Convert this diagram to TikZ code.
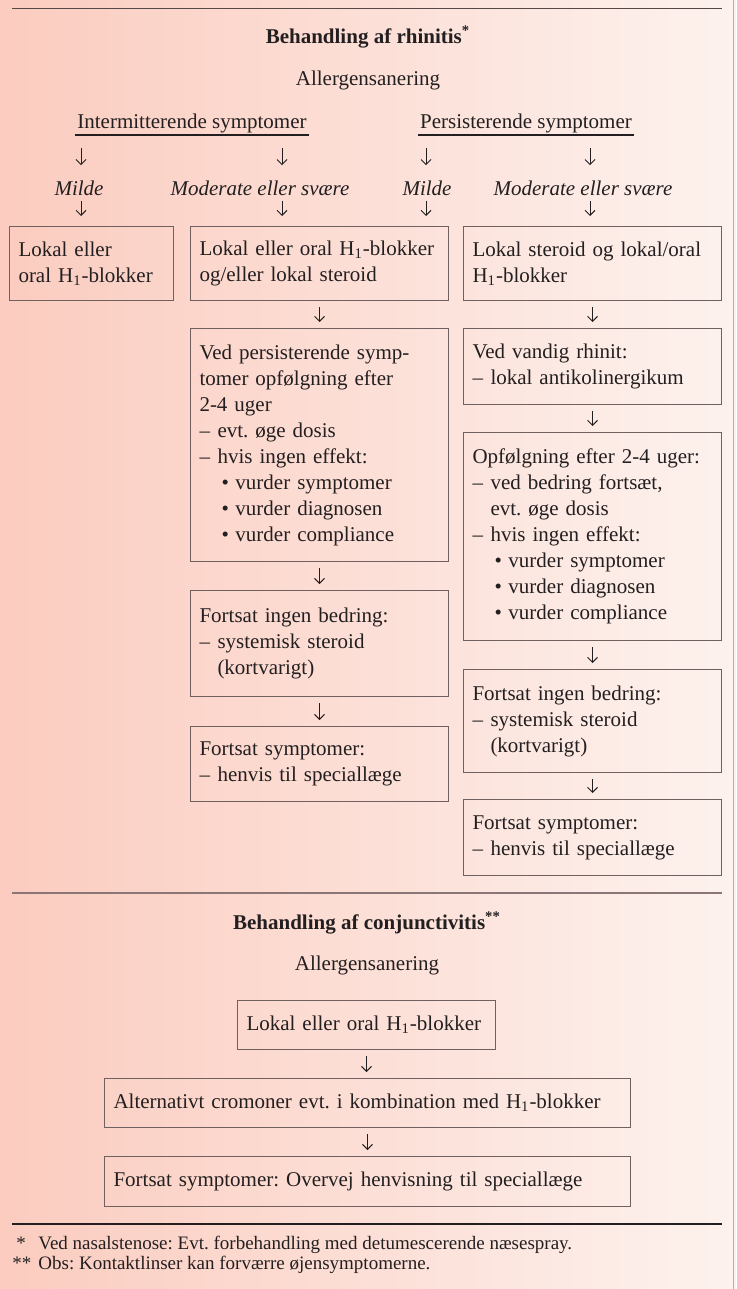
\documentclass[tikz,border=0pt]{standalone}
\usepackage{fontspec}
\setmainfont{Liberation Serif}
\usetikzlibrary{arrows.meta}
\frenchspacing

\definecolor{bgleft}{RGB}{251,204,191}
\definecolor{bgright}{RGB}{253,242,238}
\definecolor{ink}{RGB}{35,31,32}
\definecolor{boxline}{RGB}{112,96,96}
\definecolor{topline}{RGB}{87,72,72}
\definecolor{midline}{RGB}{138,118,118}
\definecolor{edgeline}{RGB}{185,172,170}

\newcommand{\dashitem}{\makebox[9pt][l]{\textendash}}
\newcommand{\dashcont}{\hspace*{9pt}}
\newcommand{\bulitem}{\hspace*{11pt}\makebox[7pt][l]{\textbullet}}
\newcommand{\Hone}{H\textsubscript{1}}

\tikzset{
  txt/.style={font=\fontsize{10.5}{13}\selectfont, text=ink, inner sep=1pt},
  sev/.style={txt, font=\fontsize{10.5}{13}\selectfont\itshape},
  treatbox/.style={txt, draw=boxline, line width=0.5pt, anchor=north west,
    align=left, inner xsep=4.5pt, inner ysep=0pt},
  arr/.style={draw=ink, line width=0.5pt,
    -{Straight Barb[length=2.5pt,width=5pt]}, shorten <=3pt, shorten >=3pt},
  note/.style={font=\fontsize{9.5}{12}\selectfont, text=ink, inner sep=0pt, anchor=west},
}

\begin{document}
\begin{tikzpicture}[x=0.5pt, y=-0.5pt]
    \useasboundingbox (0,0) rectangle (736,1289);
    % background
    \fill[left color=bgleft, right color=bgright] (0,0) rectangle (736,1289);
    \draw[edgeline, line width=0.5pt] (733,0) -- (733,1289);

    % Rhinitis
    \draw[topline, line width=0.8pt] (12,8.5) -- (722,8.5);
    \node[txt] (title1) at (368,37) {\textbf{Behandling af rhinitis\textsuperscript{*}}};
    \node[txt] (aller1) at (368,80) {Allergensanering};

    \node[txt] (inter) at (192,123) {Intermitterende symptomer};
    \node[txt] (pers) at (526,123) {Persisterende symptomer};
    \draw[ink, line width=0.6pt] (inter.south west) -- (inter.south east);
    \draw[ink, line width=0.6pt] (pers.south west) -- (pers.south east);

    \coordinate (colA) at (81,0);
    \coordinate (colB) at (282,0);
    \coordinate (colC) at (426,0);
    \coordinate (colD) at (590,0);

    \node[sev] (mild1) at (79,188) {Milde};
    \node[sev] (mod1) at (260,188) {Moderate eller svære};
    \node[sev] (mild2) at (427,188) {Milde};
    \node[sev] (mod2) at (583,188) {Moderate eller svære};

    \draw[arr, shorten <=6.5pt, shorten >=6.5pt] (inter.south -| colA) -- (mild1.north -| colA);
    \draw[arr, shorten <=6.5pt, shorten >=6.5pt] (inter.south -| colB) -- (mod1.north -| colB);
    \draw[arr, shorten <=6.5pt, shorten >=6.5pt] (pers.south -| colC) -- (mild2.north -| colC);
    \draw[arr, shorten <=6.5pt, shorten >=6.5pt] (pers.south -| colD) -- (mod2.north -| colD);

    % first step
    \node[treatbox, text width=73pt, minimum height=37pt] (boxA) at (9,226)
        {Lokal eller\\oral \Hone-blokker};
    \node[treatbox, text width=120pt, minimum height=37pt] (boxB) at (190,226)
        {Lokal eller oral \Hone-blokker\\og/eller lokal steroid};
    \node[treatbox, text width=120pt, minimum height=37pt] (boxC) at (463,226)
        {Lokal steroid og lokal/oral\\\Hone-blokker};

    \draw[arr, shorten <=1.5pt, shorten >=5pt] (mild1.south -| colA) -- (boxA.north -| colA);
    \draw[arr, shorten <=1.5pt, shorten >=5pt] (mod1.south -| colB) -- (boxB.north -| colB);
    \draw[arr, shorten <=1.5pt, shorten >=5pt] (mild2.south -| colC) -- (boxB.north -| colC);
    \draw[arr, shorten <=1.5pt, shorten >=5pt] (mod2.south -| colD) -- (boxC.north -| colD);

    % middle column
    \node[treatbox, text width=120pt, minimum height=116.5pt] (boxB2) at (190,328)
        {Ved persisterende symp-\\tomer opfølgning efter\\2-4 uger\\
         \dashitem evt. øge dosis\\\dashitem hvis ingen effekt:\\
         \bulitem vurder symptomer\\\bulitem vurder diagnosen\\\bulitem vurder compliance};
    \node[treatbox, text width=120pt, minimum height=53pt] (boxB3) at (190,590)
        {Fortsat ingen bedring:\\\dashitem systemisk steroid\\\dashcont (kortvarigt)};
    \node[treatbox, text width=120pt, minimum height=37.5pt] (boxB4) at (190,726)
        {Fortsat symptomer:\\\dashitem henvis til speciallæge};

    \draw[arr] (boxB.south) -- (boxB2.north);
    \draw[arr] (boxB2.south) -- (boxB3.north);
    \draw[arr] (boxB3.south) -- (boxB4.north);

    % right column
    \node[treatbox, text width=120pt, minimum height=38pt] (boxC2) at (463,328)
        {Ved vandig rhinit:\\\dashitem lokal antikolinergikum};
    \node[treatbox, text width=120pt, minimum height=104pt] (boxC3) at (463,432)
        {Opfølgning efter 2-4 uger:\\\dashitem ved bedring fortsæt,\\\dashcont evt. øge dosis\\
         \dashitem hvis ingen effekt:\\\bulitem vurder symptomer\\\bulitem vurder diagnosen\\
         \bulitem vurder compliance};
    \node[treatbox, text width=120pt, minimum height=51.5pt] (boxC4) at (463,669)
        {Fortsat ingen bedring:\\\dashitem systemisk steroid\\\dashcont (kortvarigt)};
    \node[treatbox, text width=120pt, minimum height=38pt] (boxC5) at (463,799)
        {Fortsat symptomer:\\\dashitem henvis til speciallæge};

    \draw[arr] (boxC.south) -- (boxC2.north);
    \draw[arr] (boxC2.south) -- (boxC3.north);
    \draw[arr] (boxC3.south) -- (boxC4.north);
    \draw[arr] (boxC4.south) -- (boxC5.north);

    % Conjunctivitis
    \draw[midline, line width=0.6pt] (12,893) -- (722,893);
    \node[txt] (title2) at (367,923) {\textbf{Behandling af conjunctivitis\textsuperscript{**}}};
    \node[txt] (aller2) at (367,965) {Allergensanering};

    \node[treatbox, text width=120pt, minimum height=24.5pt] (boxD1) at (237,1000)
        {Lokal eller oral \Hone-blokker};
    \node[treatbox, text width=254pt, minimum height=24.5pt] (boxD2) at (104,1078)
        {Alternativt cromoner evt. i kombination med \Hone-blokker};
    \node[treatbox, text width=254pt, minimum height=25pt] (boxD3) at (104,1156)
        {Fortsat symptomer: Overvej henvisning til speciallæge};

    \draw[arr] (boxD1.south) -- (boxD2.north -| boxD1.south);
    \draw[arr] (boxD2.south) -- (boxD3.north);

    % footnotes
    \draw[ink, line width=0.6pt] (12,1224) -- (722,1224);
    \node[note] (star1) at (16,1243) {*};
    \node[note] (fn1) at (38,1245) {Ved nasalstenose: Evt. forbehandling med detumescerende næsespray.};
    \node[note] (star2) at (12,1263) {**};
    \node[note] (fn2) at (38,1265) {Obs: Kontaktlinser kan forværre øjensymptomerne.};
\end{tikzpicture}
\end{document}
